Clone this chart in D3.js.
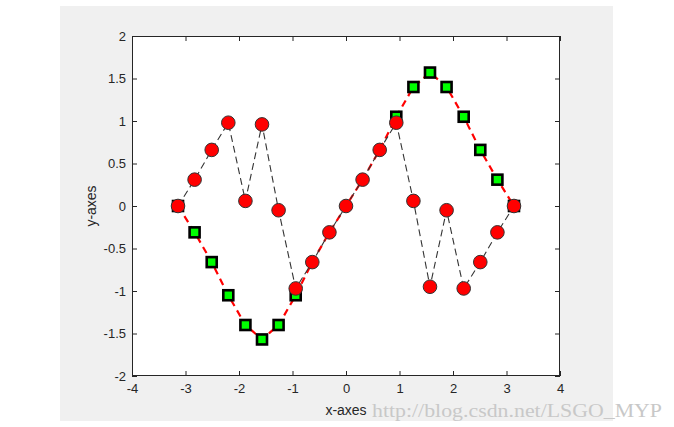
<!DOCTYPE html>
<html>
<head>
<meta charset="utf-8">
<script src="https://cdn.jsdelivr.net/npm/d3@7"></script>
<style>
  html, body { margin: 0; padding: 0; background: #ffffff; }
  svg { display: block; }
  .lbl { font-family: "Liberation Sans", Arial, sans-serif; }
  .wm { font-family: "Liberation Serif", "DejaVu Serif", serif; }
</style>
</head>
<body>
<svg id="chart" width="674" height="427"></svg>
<script>
// ---- data ----
const xValues = [-3.14, -2.83, -2.51, -2.20, -1.88, -1.57, -1.26, -0.94, -0.63, -0.31, 0,
                  0.31, 0.63, 0.94, 1.26, 1.57, 1.88, 2.20, 2.51, 2.83, 3.14];
const triangleY = [0, -0.31, -0.66, -1.05, -1.40, -1.57, -1.40, -1.05, -0.66, -0.31, 0,
                   0.31, 0.66, 1.05, 1.40, 1.57, 1.40, 1.05, 0.66, 0.31, 0];
const circleY   = [0, 0.31, 0.66, 0.98, 0.06, 0.96, -0.05, -0.97, -0.66, -0.31, 0,
                   0.31, 0.66, 0.98, 0.06, -0.95, -0.05, -0.97, -0.66, -0.31, 0];
const squareIndices = [0, 1, 2, 3, 4, 5, 6, 7, 13, 14, 15, 16, 17, 18, 19, 20];
const xTicks = [-4, -3, -2, -1, 0, 1, 2, 3, 4];
const yTicks = [-2, -1.5, -1, -0.5, 0, 0.5, 1, 1.5, 2];
const xLabel = "x-axes";
const yLabel = "y-axes";
const watermark = "http://blog.csdn.net/LSGO_MYP";

// ---- layout ----
const svg = d3.select("#chart");
const fig = { x: 60, y: 6, w: 553, h: 415 };
const plot = { left: 132, right: 560, top: 36, bottom: 376 };
const axisColor = "#262626";

svg.append("rect").attr("x", fig.x).attr("y", fig.y).attr("width", fig.w).attr("height", fig.h)
   .attr("fill", "#f0f0f0");
svg.append("rect").attr("x", plot.left).attr("y", plot.top)
   .attr("width", plot.right - plot.left).attr("height", plot.bottom - plot.top)
   .attr("fill", "#ffffff");

const x = d3.scaleLinear().domain([-4, 4]).range([plot.left, plot.right]);
const y = d3.scaleLinear().domain([-2, 2]).range([plot.bottom, plot.top]);

function styleAxis(g) {
  g.attr("font-family", null).attr("font-size", null);
  g.select(".domain").remove();
  g.selectAll(".tick line").attr("stroke", axisColor).attr("stroke-width", 1);
  g.selectAll(".tick text").attr("class", "lbl").attr("fill", axisColor).attr("font-size", 13);
}

svg.append("g").attr("transform", `translate(0,${plot.bottom})`)
   .call(d3.axisBottom(x).tickValues(xTicks).tickFormat(d => String(d)).tickSize(-5).tickPadding(8))
   .call(styleAxis);
svg.append("g").attr("transform", `translate(0,${plot.top})`)
   .call(d3.axisTop(x).tickValues(xTicks).tickSize(-5).tickFormat(""))
   .call(styleAxis);
svg.append("g").attr("transform", `translate(${plot.left},0)`)
   .call(d3.axisLeft(y).tickValues(yTicks).tickFormat(d => String(d)).tickSize(-5).tickPadding(6))
   .call(styleAxis);
svg.append("g").attr("transform", `translate(${plot.right},0)`)
   .call(d3.axisRight(y).tickValues(yTicks).tickSize(-5).tickFormat(""))
   .call(styleAxis);

// box
svg.append("rect").attr("x", plot.left + 0.5).attr("y", plot.top + 0.5)
   .attr("width", plot.right - plot.left - 1).attr("height", plot.bottom - plot.top - 1)
   .attr("fill", "none").attr("stroke", axisColor).attr("stroke-width", 1);

// axis labels
svg.append("text").attr("class", "lbl").attr("x", (plot.left + plot.right) / 2).attr("y", 415)
   .attr("text-anchor", "middle").attr("font-size", 14).attr("fill", axisColor).text(xLabel);
svg.append("text").attr("class", "lbl").attr("transform", `translate(96,${(plot.top + plot.bottom) / 2}) rotate(-90)`)
   .attr("text-anchor", "middle").attr("font-size", 14).attr("fill", axisColor).text(yLabel);

// ---- series ----
const idx = d3.range(xValues.length);
const lineTri = d3.line().x(i => x(xValues[i])).y(i => y(triangleY[i]));
const lineCirc = d3.line().x(i => x(xValues[i])).y(i => y(circleY[i]));

svg.append("path").attr("d", lineTri(idx)).attr("fill", "none")
   .attr("stroke", "#ff0000").attr("stroke-width", 2.2).attr("stroke-dasharray", "7,5");

const sq = 10;
svg.append("g").selectAll("rect").data(squareIndices).join("rect")
   .attr("x", i => x(xValues[i]) - sq / 2).attr("y", i => y(triangleY[i]) - sq / 2)
   .attr("width", sq).attr("height", sq)
   .attr("fill", "#00ff00").attr("stroke", "#000000").attr("stroke-width", 2.6);

svg.append("path").attr("d", lineCirc(idx)).attr("fill", "none")
   .attr("stroke", "#333333").attr("stroke-width", 1.1).attr("stroke-dasharray", "7,4");

svg.append("g").selectAll("circle").data(idx).join("circle")
   .attr("cx", i => x(xValues[i])).attr("cy", i => y(circleY[i])).attr("r", 6.8)
   .attr("fill", "#ff0000").attr("stroke", "#333333").attr("stroke-width", 1);

// watermark
svg.append("text").attr("class", "wm").attr("x", 372).attr("y", 417)
   .attr("font-size", 19).attr("fill", "#c8c8c8")
   .attr("textLength", 290).attr("lengthAdjust", "spacingAndGlyphs")
   .text(watermark);
</script>
</body>
</html>
